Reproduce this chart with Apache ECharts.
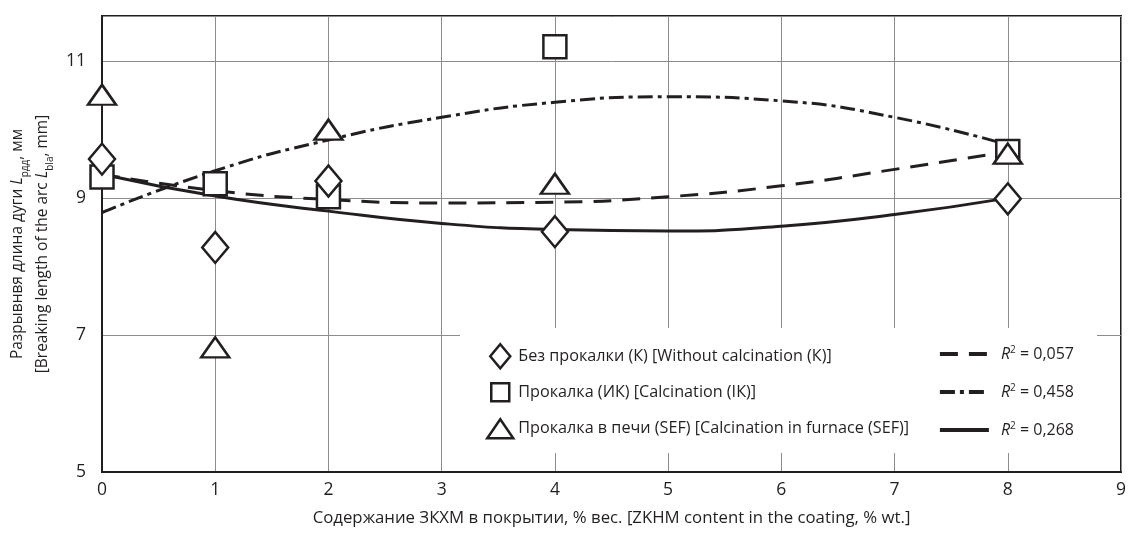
<!DOCTYPE html>
<html>
<head>
<meta charset="utf-8">
<script src="https://cdn.jsdelivr.net/npm/echarts@6/dist/echarts.min.js"></script>
<style>
html,body{margin:0;padding:0;background:#fff;}
#chart{width:1129px;height:534px;}
</style>
</head>
<body>
<div id="chart"></div>
<script>
// Data
const pointX = [0, 1, 2, 4, 8];
const diamondVals = [9.57, 8.28, 9.25, 8.51, 8.99];   // Без прокалки (К)
const squareVals = [9.31, 9.21, 9.02, 11.21, 9.68];   // Прокалка (ИК)
const triangleVals = [10.51, 6.82, 10.0, 9.21, 9.65]; // Прокалка в печи (SEF)

const curveX = [0, 1, 2, 3, 4, 5, 6, 7, 8];
const dashedVals = [9.35, 9.11, 8.98, 8.93, 8.94, 9.02, 9.18, 9.42, 9.68];   // R2 = 0,057
const dashDotVals = [8.79, 9.40, 9.85, 10.18, 10.40, 10.48, 10.42, 10.18, 9.78]; // R2 = 0,458
const solidVals = [9.35, 9.03, 8.81, 8.63, 8.54, 8.52, 8.59, 8.76, 9.0];    // R2 = 0,268

const yTickLabels = [5, 7, 9, 11];
const xTickLabels = [0, 1, 2, 3, 4, 5, 6, 7, 8, 9];

const seriesNames = [
  'Без прокалки (К) [Without calcination (К)]',
  'Прокалка (ИК) [Calcination (IК)]',
  'Прокалка в печи (SEF) [Calcination in furnace (SEF)]'
];
const r2Labels = ['0,057', '0,458', '0,268'];

const INK = '#231f20';
const FONT = 'Open Sans';

function pairs(xs, ys) { return xs.map((x, i) => [x, ys[i]]); }

const markerStyle = { color: '#fff', borderColor: INK, borderWidth: 2.5, opacity: 1 };

const chart = echarts.init(document.getElementById('chart'), null, { renderer: 'canvas' });

const r2Names = r2Labels.map(v => 'R2 = ' + v);

const LEG_FS = 16.2;

const option = {
  animation: false,
  backgroundColor: '#fff',
  textStyle: { fontFamily: FONT, color: INK },
  grid: {
    left: 102, right: 8, top: 16, bottom: 62,
    containLabel: false, outerBoundsMode: 'none',
    show: true, borderColor: INK, borderWidth: 2, backgroundColor: 'transparent'
  },
  graphic: [{
    type: 'rect', z: 1,
    shape: { x: 460, y: 328, width: 637, height: 125 },
    style: { fill: '#fff' }, silent: true
  }],
  xAxis: {
    type: 'value', min: 0, max: 9, interval: 1,
    axisLine: { show: true, lineStyle: { color: INK, width: 2 } },
    axisTick: { show: false },
    axisLabel: {
      margin: 9, fontSize: 17.5, color: INK, fontFamily: FONT,
      formatter: v => (xTickLabels.indexOf(v) >= 0 ? String(v) : '')
    },
    splitLine: { show: true, lineStyle: { color: '#8c8c8c', width: 1 } },
    name: 'Содержание ЗКХМ в покрытии, % вес. [ZKHM content in the coating, % wt.]',
    nameLocation: 'middle', nameGap: 38,
    nameTextStyle: { fontSize: 16.8, color: INK, fontFamily: FONT }
  },
  yAxis: {
    type: 'value', min: 5, max: 11.66, interval: 2,
    axisLine: { show: true, lineStyle: { color: INK, width: 2 } },
    axisTick: { show: false },
    axisLabel: {
      margin: 16, fontSize: 17.5, color: INK, fontFamily: FONT,
      formatter: v => (yTickLabels.indexOf(v) >= 0 ? String(v) : '')
    },
    splitLine: { show: true, lineStyle: { color: '#8c8c8c', width: 1 } },
    name: '{a|Разрывнвя длина дуги }{i|L}{s|рдд}{a|, мм}\n{a|[Breaking length of the arc }{i|L}{s|bla}{a|, mm]}',
    nameLocation: 'middle', nameGap: 47,
    nameTextStyle: {
      fontSize: 15.5, color: INK, fontFamily: FONT,
      rich: {
        a: { fontSize: 15.5, lineHeight: 25, fontFamily: FONT, color: INK },
        i: { fontSize: 15.5, lineHeight: 25, fontFamily: FONT, fontStyle: 'italic', color: INK },
        s: { fontSize: 10, lineHeight: 13, fontFamily: FONT, verticalAlign: 'bottom', color: INK }
      }
    }
  },
  legend: [
    {
      data: [{ name: seriesNames[0], icon: 'diamond' }],
      left: 489, top: 343, padding: 0, itemWidth: 20, itemHeight: 24,
      itemStyle: markerStyle, selectedMode: false,
      textStyle: { fontSize: LEG_FS, color: INK, fontFamily: FONT, padding: [0, 0, 0, 3] }
    },
    {
      data: [{ name: seriesNames[1], icon: 'rect' }],
      left: 490, top: 382, padding: 0, itemWidth: 18, itemHeight: 18,
      itemStyle: markerStyle, selectedMode: false,
      textStyle: { fontSize: LEG_FS, color: INK, fontFamily: FONT, padding: [0, 0, 0, 4] }
    },
    {
      data: [{ name: seriesNames[2], icon: 'triangle' }],
      left: 486, top: 418, padding: 0, itemWidth: 26, itemHeight: 19,
      itemStyle: markerStyle, selectedMode: false,
      textStyle: { fontSize: LEG_FS, color: INK, fontFamily: FONT, padding: [0, 0, 0, 0] }
    },
    {
      data: r2Names,
      orient: 'vertical', left: 938, top: 345, padding: 0,
      itemWidth: 49, itemHeight: 16, itemGap: 21, selectedMode: false,
      lineStyle: { width: 3.8 },
      itemStyle: { color: 'rgba(0,0,0,0)', borderWidth: 0, opacity: 0 },
      formatter: name => '{i|R}{sup|2}{t| = ' + name.replace('R2 = ', '') + '}',
      textStyle: {
        fontSize: 16, color: INK, fontFamily: FONT, padding: [0, 0, 0, 7],
        rich: {
          i: { fontSize: 16, fontStyle: 'italic', lineHeight: 18, fontFamily: FONT, color: INK },
          sup: { fontSize: 10, lineHeight: 11, verticalAlign: 'top', fontFamily: FONT, color: INK },
          t: { fontSize: 16, lineHeight: 18, fontFamily: FONT, color: INK }
        }
      }
    }
  ],
  series: [
    {
      name: r2Names[0], type: 'line', data: pairs(curveX, dashedVals),
      smooth: 0.5, symbol: 'none', z: 2,
      lineStyle: { color: INK, width: 3, type: [18, 11] }, itemStyle: { color: INK }
    },
    {
      name: r2Names[1], type: 'line', data: pairs(curveX, dashDotVals),
      smooth: 0.5, symbol: 'none', z: 2,
      lineStyle: { color: INK, width: 3, type: [15, 5, 4, 5] }, itemStyle: { color: INK }
    },
    {
      name: r2Names[2], type: 'line', data: pairs(curveX, solidVals),
      smooth: 0.5, symbol: 'none', z: 2,
      lineStyle: { color: INK, width: 3 }, itemStyle: { color: INK }
    },
    {
      name: seriesNames[1], type: 'scatter', data: pairs(pointX, squareVals),
      symbol: 'rect', symbolSize: [23, 23], z: 3, itemStyle: markerStyle
    },
    {
      name: seriesNames[0], type: 'scatter', data: pairs(pointX, diamondVals),
      symbol: 'diamond', symbolSize: [26, 31], z: 4, itemStyle: markerStyle
    },
    {
      name: seriesNames[2], type: 'scatter', data: pairs(pointX, triangleVals),
      symbol: 'triangle', symbolSize: [28, 20], z: 5, itemStyle: markerStyle
    }
  ]
};

chart.setOption(option);
</script>
</body>
</html>
